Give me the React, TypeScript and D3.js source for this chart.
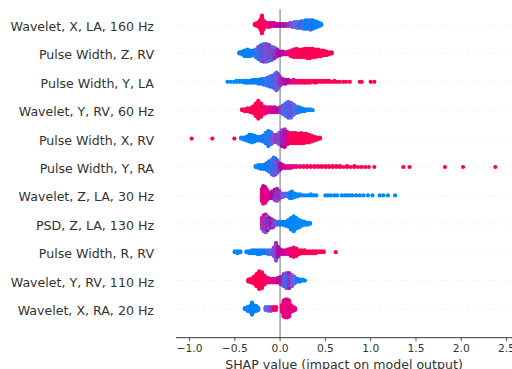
import React from 'react';
import * as d3 from 'd3';

// feature names, top row first
const features = [
  'Wavelet, X, LA, 160 Hz',
  'Pulse Width, Z, RV',
  'Pulse Width, Y, LA',
  'Wavelet, Y, RV, 60 Hz',
  'Pulse Width, X, RV',
  'Pulse Width, Y, RA',
  'Wavelet, Z, LA, 30 Hz',
  'PSD, Z, LA, 130 Hz',
  'Pulse Width, R, RV',
  'Wavelet, Y, RV, 110 Hz',
  'Wavelet, X, RA, 20 Hz',
];

// [shap value, samples in bin, feature value (0 low .. 1 high), optional mixed-in feature value]
type Bin = [number, number, number, number?];

const waveletXLA160: Bin[] = [
  [-0.28, 2, 0.9], [-0.255, 4, 0.95], [-0.235, 6, 1], [-0.215, 12, 1], [-0.2, 20, 1],
  [-0.185, 11, 0.95], [-0.165, 6, 0.9], [-0.14, 5, 0.85], [-0.115, 5, 0.8, 0.6], [-0.09, 4, 0.7],
  [-0.065, 4, 0.65], [-0.04, 3, 0.6], [-0.015, 3, 0.6], [0.01, 3, 0.55], [0.035, 3, 0.5],
  [0.06, 3, 0.5], [0.085, 3, 0.45], [0.11, 4, 0.4], [0.135, 5, 0.35], [0.16, 6, 0.25],
  [0.185, 7, 0.2], [0.21, 7, 0.15, 0.4], [0.235, 8, 0.1], [0.26, 9, 0.1, 0.3], [0.285, 10, 0.05],
  [0.31, 10, 0.05], [0.335, 11, 0.05, 0.25], [0.36, 10, 0.05], [0.385, 8, 0.05], [0.41, 6, 0.05],
  [0.435, 4, 0], [0.455, 2, 0],
];

const pulseWidthZRV: Bin[] = [
  [-0.45, 2, 0.05], [-0.42, 4, 0.05], [-0.39, 7, 0.05], [-0.36, 8, 0.05], [-0.33, 7, 0.05],
  [-0.3, 6, 0.1], [-0.27, 9, 0.2, 0.05], [-0.24, 14, 0.35, 0.05], [-0.21, 18, 0.4, 0.1],
  [-0.18, 20, 0.45, 0.15], [-0.15, 20, 0.4, 0.2], [-0.12, 18, 0.45, 0.15], [-0.09, 15, 0.45, 0.25],
  [-0.06, 12, 0.5, 0.3], [-0.03, 8, 0.5], [0, 5, 0.55], [0.03, 4, 0.6], [0.06, 3, 0.7],
  [0.09, 4, 0.8], [0.12, 7, 0.9], [0.15, 9, 0.95], [0.18, 10, 0.95], [0.21, 9, 0.95],
  [0.24, 9, 1], [0.27, 10, 1], [0.3, 11, 1, 0.85], [0.33, 11, 1], [0.36, 10, 1], [0.39, 9, 1],
  [0.42, 8, 1], [0.45, 7, 1], [0.48, 6, 1], [0.51, 5, 1], [0.54, 3, 1], [0.57, 2, 1],
];

const pulseWidthYLA: Bin[] = [
  [-0.58, 1, 0], [-0.545, 1, 0], [-0.51, 1, 0], [-0.48, 2, 0], [-0.45, 2, 0], [-0.42, 2, 0],
  [-0.39, 3, 0.05], [-0.36, 3, 0.05], [-0.33, 3, 0.05], [-0.3, 4, 0.05], [-0.27, 4, 0.05],
  [-0.24, 5, 0.05], [-0.21, 6, 0.1], [-0.18, 7, 0.1], [-0.15, 9, 0.15], [-0.12, 11, 0.2, 0.05],
  [-0.1, 12, 0.25, 0.05], [-0.08, 13, 0.3, 0.1], [-0.06, 16, 0.3, 0.1], [-0.04, 20, 0.35, 0.15],
  [-0.02, 16, 0.4, 0.2], [0, 10, 0.45], [0.03, 6, 0.5], [0.06, 5, 0.55], [0.09, 4, 0.6],
  [0.12, 3, 0.7], [0.15, 4, 0.85], [0.18, 3, 0.9], [0.21, 3, 0.9], [0.24, 3, 0.95],
  [0.27, 3, 0.95], [0.3, 3, 1], [0.33, 3, 1], [0.36, 2, 1], [0.39, 3, 1], [0.42, 2, 1],
  [0.45, 2, 1], [0.48, 2, 1], [0.51, 2, 1], [0.54, 2, 1], [0.57, 1, 1], [0.6, 2, 1],
  [0.63, 1, 1], [0.66, 1, 1], [0.7, 1, 1], [0.73, 1, 1], [0.77, 1, 1], [0.88, 1, 1],
  [0.9, 1, 1], [1.0, 1, 1], [1.04, 1, 1],
];

const waveletYRV60: Bin[] = [
  [-0.42, 2, 0.95], [-0.39, 3, 0.95], [-0.36, 4, 1], [-0.33, 5, 1], [-0.3, 8, 1],
  [-0.27, 14, 1], [-0.24, 20, 1], [-0.21, 15, 0.95], [-0.18, 9, 0.9], [-0.15, 7, 0.8],
  [-0.12, 6, 0.75], [-0.09, 6, 0.7], [-0.06, 6, 0.65], [-0.03, 5, 0.6], [0, 6, 0.45],
  [0.03, 10, 0.35, 0.15], [0.06, 14, 0.3, 0.1], [0.09, 18, 0.3, 0.1], [0.12, 17, 0.25, 0.45],
  [0.15, 12, 0.2], [0.18, 8, 0.15], [0.21, 6, 0.1], [0.24, 4, 0.05], [0.27, 3, 0.05],
  [0.3, 2, 0], [0.33, 2, 0], [0.36, 1, 0],
];

const pulseWidthXRV: Bin[] = [
  [-0.976, 1, 1], [-0.748, 1, 1], [-0.505, 1, 1], [-0.43, 2, 0], [-0.4, 3, 0],
  [-0.37, 5, 0.05], [-0.34, 8, 0.05], [-0.31, 9, 0.05], [-0.28, 7, 0.05], [-0.25, 5, 0.05],
  [-0.22, 5, 0.1], [-0.19, 7, 0.1], [-0.16, 12, 0.15, 0.05], [-0.13, 17, 0.2, 0.05],
  [-0.1, 14, 0.25, 0.1], [-0.07, 9, 0.35], [-0.04, 9, 0.4], [-0.01, 13, 0.45, 0.2],
  [0.02, 18, 0.55, 0.35], [0.05, 20, 0.6, 0.45], [0.08, 14, 0.75], [0.11, 12, 0.9],
  [0.14, 12, 0.95], [0.17, 12, 1], [0.2, 11, 1], [0.23, 12, 1, 0.85], [0.26, 11, 1],
  [0.29, 10, 1], [0.32, 9, 1], [0.35, 7, 1], [0.38, 5, 1], [0.41, 3, 1], [0.44, 2, 1],
];

const pulseWidthYRA: Bin[] = [
  [-0.27, 2, 0], [-0.24, 4, 0], [-0.21, 5, 0.05], [-0.18, 5, 0.05], [-0.15, 8, 0.1],
  [-0.12, 12, 0.15, 0.05], [-0.09, 17, 0.2, 0.05], [-0.07, 20, 0.3, 0.1], [-0.05, 18, 0.35, 0.1],
  [-0.03, 14, 0.4, 0.15], [-0.01, 9, 0.45], [0.01, 6, 0.55], [0.03, 4, 0.65], [0.06, 3, 0.7],
  [0.09, 3, 0.75], [0.12, 3, 0.8], [0.15, 2, 0.8], [0.18, 2, 0.85], [0.22, 2, 0.85],
  [0.26, 2, 0.9], [0.3, 2, 0.9], [0.34, 2, 0.95], [0.38, 2, 0.95], [0.42, 2, 1], [0.46, 2, 1],
  [0.5, 2, 1], [0.54, 2, 1], [0.58, 2, 1], [0.62, 2, 1], [0.66, 2, 1], [0.7, 1, 1],
  [0.74, 2, 1], [0.78, 1, 1], [0.82, 2, 1], [0.86, 1, 1], [0.9, 1, 1], [0.94, 1, 1],
  [0.98, 1, 1], [1.04, 1, 1], [1.36, 1, 1], [1.43, 1, 1], [1.82, 1, 1], [2.02, 1, 1],
  [2.376, 1, 1],
];

const waveletZLA30: Bin[] = [
  [-0.2, 14, 0.95, 0.7], [-0.185, 20, 0.9, 0.6], [-0.165, 18, 0.85, 0.55], [-0.145, 12, 0.8],
  [-0.12, 7, 0.7], [-0.09, 8, 0.6], [-0.06, 12, 0.55, 0.35], [-0.035, 14, 0.5, 0.3],
  [-0.01, 10, 0.45], [0.02, 5, 0.35], [0.05, 4, 0.25], [0.08, 4, 0.15], [0.11, 7, 0.1],
  [0.13, 8, 0.05], [0.16, 5, 0], [0.19, 3, 0], [0.22, 2, 0], [0.25, 1, 0], [0.28, 1, 0],
  [0.31, 1, 0], [0.34, 2, 0], [0.37, 1, 0], [0.4, 1, 0], [0.5, 1, 0], [0.53, 1, 0],
  [0.56, 1, 0], [0.6, 1, 0], [0.63, 1, 0], [0.68, 1, 0], [0.71, 1, 0], [0.74, 1, 0],
  [0.77, 1, 0], [0.8, 1, 0], [0.84, 1, 0], [0.88, 1, 0], [0.92, 1, 0], [0.97, 1, 0],
  [1.02, 1, 0], [1.1, 1, 0], [1.14, 1, 0], [1.19, 1, 0], [1.27, 1, 0],
];

const psdZLA130: Bin[] = [
  [-0.2, 12, 0.85, 0.3], [-0.18, 18, 0.8, 0.25], [-0.16, 20, 0.75, 0.3], [-0.14, 16, 0.6, 0.2],
  [-0.12, 12, 0.55, 0.2], [-0.1, 10, 0.5], [-0.08, 9, 0.45], [-0.06, 6, 0.35], [-0.03, 4, 0.15],
  [0, 4, 0.1], [0.03, 4, 0.05], [0.06, 5, 0.05], [0.09, 8, 0.05], [0.12, 13, 0],
  [0.15, 17, 0], [0.18, 12, 0], [0.21, 9, 0], [0.24, 6, 0], [0.27, 4, 0], [0.3, 3, 0],
  [0.33, 2, 0],
];

const pulseWidthRRV: Bin[] = [
  [-0.5, 2, 0], [-0.47, 3, 0], [-0.44, 2, 0], [-0.37, 2, 0], [-0.34, 3, 0.05],
  [-0.31, 4, 0.05], [-0.28, 4, 0.05], [-0.25, 5, 0.05], [-0.22, 5, 0.05], [-0.19, 4, 0.1],
  [-0.16, 4, 0.1], [-0.13, 5, 0.15], [-0.1, 5, 0.2], [-0.07, 10, 0.35], [-0.045, 20, 0.45, 0.25],
  [-0.025, 12, 0.5], [0, 6, 0.6], [0.03, 5, 0.65], [0.06, 5, 0.7], [0.09, 6, 0.75],
  [0.12, 9, 0.85], [0.15, 11, 0.9], [0.18, 9, 0.9], [0.21, 5, 0.95], [0.24, 4, 1],
  [0.27, 4, 1], [0.3, 3, 1], [0.33, 3, 1], [0.36, 3, 1], [0.39, 3, 1], [0.42, 2, 1],
  [0.45, 2, 1], [0.48, 2, 1], [0.615, 1, 1],
];

const waveletYRV110: Bin[] = [
  [-0.35, 3, 0.95], [-0.32, 5, 0.95], [-0.29, 8, 1], [-0.26, 14, 1], [-0.23, 20, 1],
  [-0.2, 18, 1], [-0.17, 10, 0.95], [-0.14, 6, 0.85], [-0.11, 5, 0.8], [-0.08, 5, 0.75],
  [-0.05, 5, 0.7], [-0.02, 6, 0.65], [0.01, 9, 0.5], [0.04, 14, 0.4, 0.15],
  [0.07, 17, 0.35, 0.1], [0.1, 17, 0.3, 0.5], [0.13, 13, 0.3], [0.16, 8, 0.2], [0.19, 4, 0.1],
  [0.22, 3, 0.05], [0.25, 2, 0], [0.275, 1, 0],
];

const waveletXRA20: Bin[] = [
  [-0.39, 2, 0], [-0.36, 5, 0], [-0.33, 7, 0.05], [-0.31, 14, 0.05], [-0.29, 8, 0.05],
  [-0.26, 6, 0.05], [-0.24, 3, 0.05], [-0.16, 4, 0.2], [-0.13, 5, 0.3], [-0.1, 5, 0.4],
  [-0.07, 4, 0.8], [-0.045, 4, 0.95], [0.02, 8, 0.85], [0.04, 18, 0.85, 0.7],
  [0.06, 20, 0.85], [0.08, 20, 0.8, 0.65], [0.1, 18, 0.8], [0.12, 8, 0.8], [0.145, 5, 0.8],
  [0.165, 3, 0.8],
];

const rows = [
  waveletXLA160, pulseWidthZRV, pulseWidthYLA, waveletYRV60, pulseWidthXRV, pulseWidthYRA,
  waveletZLA30, psdZLA130, pulseWidthRRV, waveletYRV110, waveletXRA20,
];

const xTicks = [-1.0, -0.5, 0.0, 0.5, 1.0, 1.5, 2.0, 2.5];

const width = 512;
const height = 369;
const axisY = 337.7;
const font = '"DejaVu Sans", sans-serif';

// shap red_blue colormap: lch interpolation, lightness dips in the middle
const shapColor = (t: number) => {
  const l = t < 0.5 ? 54 - 28 * t : 40 + 28 * (t - 0.5);
  const c = 70 + 20 * t;
  const h = 266.93 + (380.32 - 266.93) * t;
  return d3.hcl(h, c, l).formatHex();
};

const App = () => {
  const x = d3.scaleLinear().domain([-1.149, 2.56]).range([176, 512]);
  const y = d3.scalePoint<string>().domain(features).range([25, 309]);
  const step = y.step();

  const dots: { cx: number; cy: number; fill: string }[] = [];
  rows.forEach((bins, r) => {
    const maxCount = d3.max(bins, (b) => b[1]) || 1;
    const maxLayer = Math.ceil((maxCount - 1) / 2);
    const gap = (0.36 * step) / (maxLayer + 1);
    const cy0 = y(features[r]) || 0;
    bins.forEach(([v, n, a, b], bi) => {
      for (let i = 0; i < n; i++) {
        const off = Math.ceil(i / 2) * (i % 2 ? -1 : 1) * gap;
        const mix = b !== undefined && (Math.ceil(i / 2) + bi) % 2 === 1;
        dots.push({ cx: x(v), cy: cy0 + off, fill: shapColor(mix ? (b as number) : a) });
      }
    });
  });

  return (
    <svg
      width={width}
      height={height}
      style={{ position: 'absolute', left: 0, top: 0, background: '#fff' }}
      fontFamily={font}
    >
      {features.map((f) => (
        <line
          key={'g' + f}
          x1={176}
          x2={width}
          y1={y(f)}
          y2={y(f)}
          stroke="#cccccc"
          strokeWidth={0.6}
          strokeDasharray="1,4.5"
        />
      ))}
      <line x1={x(0)} x2={x(0)} y1={9} y2={axisY} stroke="#999999" strokeWidth={1.4} />
      <g>
        {dots.map((d, i) => (
          <circle key={i} cx={d.cx} cy={d.cy} r={2.1} fill={d.fill} />
        ))}
      </g>
      {features.map((f) => (
        <text
          key={'l' + f}
          x={154}
          y={(y(f) || 0) + 6}
          textAnchor="end"
          fontSize={12.6}
          fill="#333333"
        >
          {f}
        </text>
      ))}
      <line x1={176} x2={width} y1={axisY} y2={axisY} stroke="#333333" strokeWidth={1} />
      {xTicks.map((t) => (
        <g key={t} transform={`translate(${x(t)},${axisY})`}>
          <line y1={0} y2={3.5} stroke="#333333" strokeWidth={0.8} />
          <text y={14.8} textAnchor="middle" fontSize={10.7} fill="#333333">
            {d3.format('.1f')(t).replace('-', '\u2212')}
          </text>
        </g>
      ))}
      <text x={(176 + width) / 2} y={368.5} textAnchor="middle" fontSize={12.6} fill="#333333">
        SHAP value (impact on model output)
      </text>
    </svg>
  );
};

export default App;
